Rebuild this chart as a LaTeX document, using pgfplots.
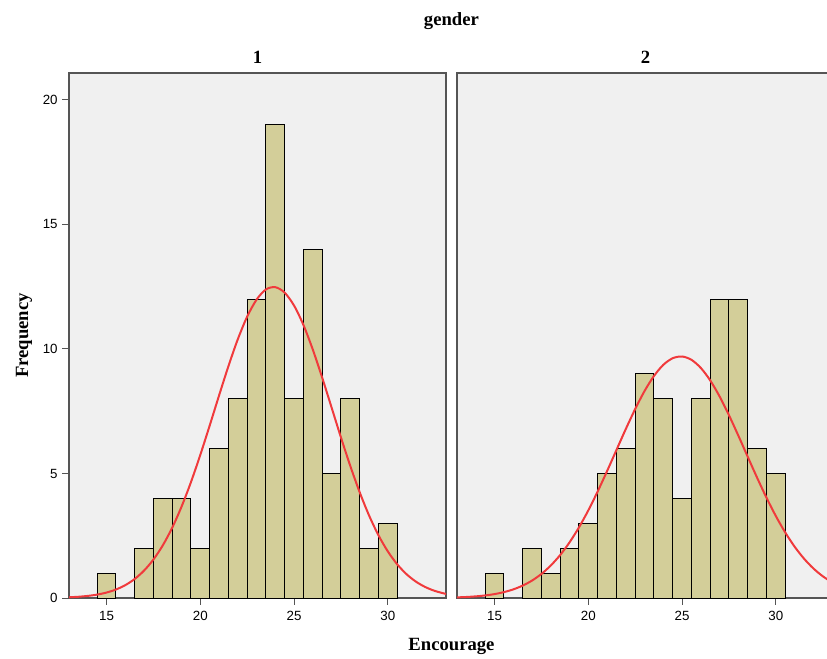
\documentclass[border=0pt]{standalone}
\usepackage{fontspec}
\setmainfont{Liberation Serif}
\newfontfamily\tickfont{Liberation Sans}
\usepackage{pgfplots}
\pgfplotsset{compat=1.18}
\definecolor{panelbg}{RGB}{240,240,240}
\definecolor{barfill}{RGB}{211,206,153}
\definecolor{curvered}{RGB}{240,58,60}
\definecolor{frame}{RGB}{85,85,85}
\pgfplotsset{
  panel/.style={
    scale only axis,
    width=282.75pt, height=393.75pt,
    xmin=13, xmax=33.1, ymin=0, ymax=21.08,
    axis background/.style={fill=panelbg},
    axis line style={draw=frame, line width=0.9pt},
    xtick={15,20,25,30},
    tick align=outside,
    xtick pos=bottom, ytick pos=left,
    major tick length=5pt,
    tick style={draw=frame, line width=0.7pt},
    /pgf/number format/assume math mode=true,
    tick label style={font=\tickfont\fontsize{10}{12}\selectfont},
    xticklabel style={yshift=-1.5pt},
    title style={font=\bfseries\fontsize{14}{16}\selectfont, at={(0.5,1)}, anchor=center, yshift=6pt},
    clip mode=individual,
  },
  bars/.style={ybar, bar width=1, bar shift=0pt, fill=barfill, draw=black, line width=0.75pt},
  normcurve/.style={curvered, line width=1.5pt, smooth, no markers},
}
\begin{document}
\begin{tikzpicture}
\begin{axis}[panel, name=p1, title={1}, ytick={0,5,10,15,20}]
\addplot[bars] coordinates {
(15,1) (17,2) (18,4) (19,4) (20,2) (21,6) (22,8) (23,12) (24,19)
(25,8) (26,14) (27,5) (28,8) (29,2) (30,3)};
\addplot[normcurve] coordinates {
(13,0.029) (13.5,0.050) (14,0.084) (14.5,0.137) (15,0.219) (15.5,0.340)
(16,0.516) (16.5,0.763) (17,1.100) (17.5,1.544) (18,2.113) (18.5,2.819)
(19,3.667) (19.5,4.649) (20,5.747) (20.5,6.923) (21,8.131) (21.5,9.309)
(22,10.39) (22.5,11.30) (23,11.98) (23.5,12.39) (24,12.48) (24.5,12.26)
(25,11.74) (25.5,10.96) (26,9.972) (26.5,8.845) (27,7.648) (27.5,6.445)
(28,5.296) (28.5,4.242) (29,3.311) (29.5,2.519) (30,1.869) (30.5,1.352)
(31,0.953) (31.5,0.655) (32,0.439) (32.5,0.286) (33,0.182) (33.1,0.165)};
\node[xshift=-33.75pt, rotate=90, font=\bfseries\fontsize{14}{16}\selectfont] at (rel axis cs:0,0.5) {Frequency};
\node[xshift=4.1pt, yshift=39pt, font=\bfseries\fontsize{14}{16}\selectfont] at (rel axis cs:1,1) {gender};
\node[xshift=4.1pt, yshift=-36.5pt, font=\bfseries\fontsize{14}{16}\selectfont] at (rel axis cs:1,0) {Encourage};
\end{axis}
\begin{axis}[panel, name=p2, at={(291pt,0pt)}, anchor=south west, title={2}, ytick=\empty]
\addplot[bars] coordinates {
(15,1) (17,2) (18,1) (19,2) (20,3) (21,5) (22,6) (23,9) (24,8)
(25,4) (26,8) (27,12) (28,12) (29,6) (30,5)};
\addplot[normcurve] coordinates {
(13,0.025) (13.5,0.041) (14,0.066) (14.5,0.103) (15,0.157) (15.5,0.236)
(16,0.346) (16.5,0.498) (17,0.700) (17.5,0.966) (18,1.305) (18.5,1.725)
(19,2.234) (19.5,2.833) (20,3.518) (20.5,4.279) (21,5.094) (21.5,5.941)
(22,6.786) (22.5,7.588) (23,8.312) (23.5,8.914) (24,9.363) (24.5,9.628)
(25,9.697) (25.5,9.564) (26,9.237) (26.5,8.737) (27,8.093) (27.5,7.340)
(28,6.519) (28.5,5.670) (29,4.830) (29.5,4.028) (30,3.290) (30.5,2.632)
(31,2.061) (31.5,1.581) (32,1.188) (32.5,0.874) (33,0.629) (33.1,0.585)};
\end{axis}
\pgfresetboundingbox
\path[use as bounding box] (-51.75pt,-45pt) rectangle (568.5pt,448.5pt);
\end{tikzpicture}
\end{document}
